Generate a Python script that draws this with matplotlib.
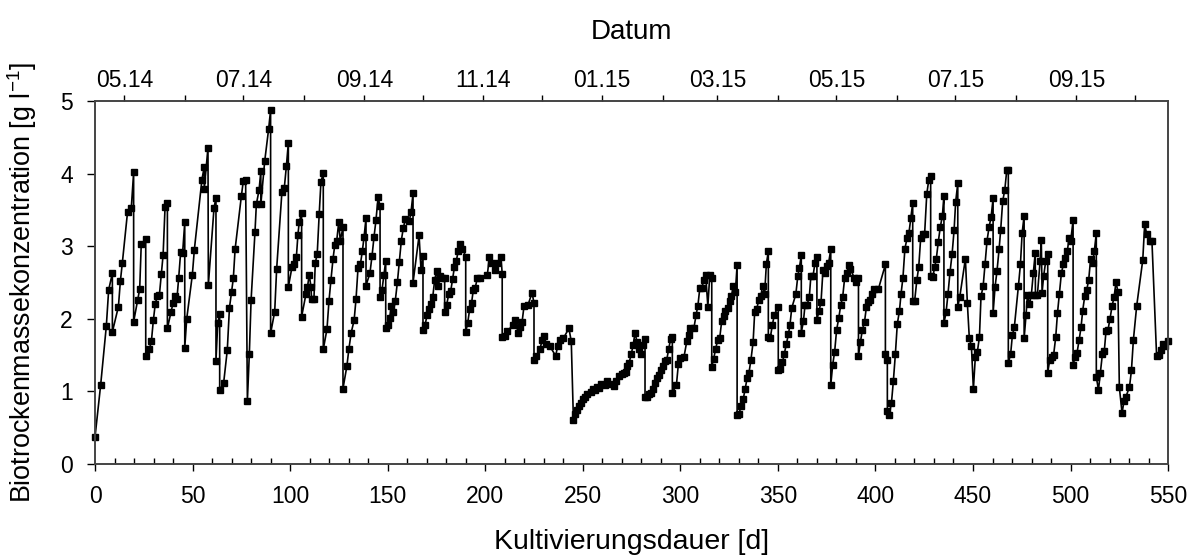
import pandas as pd
import matplotlib.pyplot as plt
from matplotlib.ticker import MultipleLocator, FixedLocator

plt.rcParams['font.family'] = ['Liberation Sans', 'DejaVu Sans']
plt.rcParams['mathtext.default'] = 'regular'

# cultivation start, day 0
start = pd.Timestamp("2014-04-16")

days = [
    0, 2.9, 5.8, 7.0, 8.9, 8.9, 12.0, 13.0, 14.0, 16.7, 18.6, 19.8, 19.8, 21.9, 22.9, 23.7,
    26.0, 26.0, 27.8, 28.9, 29.9, 30.9, 31.9, 33.0, 34.0, 34.9, 35.9, 37.1, 37.1, 39.0, 40.0,
    41.0, 42.0, 42.9, 43.9, 44.9, 46.0, 46.0, 47.0, 49.9, 50.9, 54.8, 56.0, 56.0, 57.9, 58.1,
    61.0, 62.0, 62.0, 62.9, 63.9, 63.9, 65.9, 67.8, 68.9, 70.0, 70.9, 71.8, 75.0, 76.0, 77.2,
    78.1, 79.1, 80.0, 82.0, 82.7, 84.1, 85.0, 85.0, 87.0, 89.0, 90.0, 90.0, 92.1, 93.1, 95.8,
    97.0, 98.1, 99.1, 99.1, 101.0, 102.0, 103.2, 104.0, 104.7, 105.9, 105.9, 108.1, 108.9,
    109.8, 110.7, 111.0, 112.2, 112.9, 113.9, 114.9, 115.8, 117.0, 117.0, 118.9, 119.9, 120.9,
    122.0, 122.9, 123.9, 124.9, 125.7, 127.1, 127.1, 129.1, 130.1, 131.3, 132.8, 133.8, 134.8,
    136.0, 137.0, 137.9, 138.9, 138.9, 140.9, 142.0, 143.0, 144.0, 145.1, 146.1, 146.1, 147.1,
    148.1, 149.0, 149.0, 150.0, 151.0, 151.9, 152.9, 153.9, 155.0, 156.0, 157.0, 158.0, 159.1,
    161.1, 162.0, 163.0, 163.0, 166.1, 167.1, 168.1, 168.1, 169.1, 170.2, 171.2, 172.0, 173.1,
    174.1, 175.1, 176.0, 176.8, 177.9, 179.2, 179.2, 180.2, 181.3, 182.3, 183.3, 184.2, 185.2,
    186.1, 187.1, 188.3, 190.0, 190.0, 191.0, 192.0, 193.0, 193.9, 194.9, 195.9, 197.4, 201.1,
    202.1, 203.1, 205.2, 206.2, 208.1, 208.7, 208.7, 210.0, 211.3, 214.4, 215.4, 217.0, 217.8,
    218.9, 219.9, 221.9, 224.0, 225.0, 225.0, 226.0, 228.1, 229.1, 230.1, 231.1, 233.2, 236.1,
    237.1, 238.3, 240.0, 242.9, 244.1, 245.2, 246.2, 247.2, 248.2, 249.3, 250.3, 251.3, 252.3,
    254.2, 255.4, 256.2, 257.3, 258.3, 259.3, 261.4, 262.4, 264.3, 266.2, 267.2, 268.4, 270.3,
    271.3, 272.3, 272.8, 273.7, 274.9, 275.8, 276.8, 277.8, 278.8, 279.9, 280.9, 281.9, 281.9,
    282.9, 284.0, 285.0, 286.0, 287.0, 288.1, 288.9, 289.9, 290.9, 292.0, 293.0, 294.0, 295.0,
    295.9, 295.9, 298.0, 299.0, 300.0, 301.9, 303.3, 304.3, 305.0, 307.0, 308.1, 309.0, 310.0,
    311.0, 312.0, 313.0, 314.1, 315.1, 316.1, 316.1, 317.1, 318.1, 319.2, 320.2, 321.2, 322.3,
    323.1, 324.2, 325.2, 326.2, 327.2, 328.2, 329.1, 329.1, 330.1, 331.1, 332.2, 333.2, 334.2,
    335.2, 336.2, 337.3, 338.1, 339.1, 340.2, 341.2, 342.2, 343.2, 344.1, 345.1, 345.1, 346.1,
    347.2, 348.2, 350.2, 350.2, 351.3, 352.3, 353.3, 354.4, 355.4, 356.2, 357.1, 359.2, 360.2,
    361.0, 362.0, 362.0, 363.1, 363.9, 364.9, 366.1, 366.9, 368.0, 369.0, 370.0, 370.0, 371.1,
    372.1, 373.1, 374.2, 375.0, 376.0, 377.1, 377.1, 378.1, 379.1, 380.1, 381.2, 382.2, 383.2,
    384.2, 385.3, 386.3, 387.2, 389.2, 390.2, 391.3, 391.3, 392.3, 393.3, 394.4, 395.4, 396.4,
    397.4, 398.4, 399.5, 401.5, 405.1, 405.1, 406.1, 406.1, 407.1, 408.2, 409.2, 410.2, 411.2,
    412.3, 413.1, 414.1, 415.1, 416.2, 417.2, 418.1, 419.1, 419.1, 420.1, 421.2, 422.2, 423.2,
    424.2, 425.2, 426.3, 427.3, 428.3, 428.3, 429.4, 430.4, 431.2, 432.2, 433.2, 434.3, 435.1,
    435.1, 436.2, 437.2, 438.2, 439.3, 440.3, 441.1, 442.2, 442.2, 443.2, 446.1, 447.1, 448.1,
    449.2, 450.2, 451.2, 452.2, 453.3, 454.1, 455.2, 456.2, 457.2, 458.2, 459.3, 460.3, 460.3,
    461.3, 462.3, 463.4, 464.2, 465.2, 466.3, 467.3, 468.1, 468.1, 469.3, 470.2, 471.2, 473.3,
    474.3, 475.2, 476.2, 476.2, 477.2, 477.9, 478.9, 479.9, 480.9, 481.9, 482.0, 483.0, 484.4,
    485.0, 485.4, 486.2, 487.3, 488.3, 488.3, 489.3, 490.3, 491.3, 492.4, 493.3, 494.3, 495.3,
    496.3, 497.4, 498.4, 499.2, 500.1, 501.3, 501.3, 502.3, 503.3, 504.4, 505.4, 506.2, 507.3,
    508.3, 509.3, 510.3, 511.4, 512.2, 513.2, 513.2, 514.3, 515.3, 516.3, 517.3, 518.2, 519.2,
    520.2, 521.3, 522.3, 523.3, 524.3, 525.0, 526.4, 527.4, 528.4, 530.2, 531.2, 532.2, 533.9,
    537.0, 538.0, 539.0, 540.7, 541.7, 544.1, 545.2, 546.2, 547.2, 548.2, 549.8,
]

btm = [
    0.37, 1.09, 1.90, 2.40, 2.63, 1.82, 2.17, 2.52, 2.77, 3.48, 3.53, 4.02, 1.96, 2.26, 2.41, 3.03,
    3.10, 1.49, 1.58, 1.69, 1.98, 2.21, 2.31, 2.33, 2.62, 2.88, 3.54, 3.60, 1.87, 2.10, 2.22,
    2.32, 2.28, 2.57, 2.92, 2.91, 3.33, 1.60, 2.00, 2.61, 2.95, 3.92, 4.10, 3.79, 4.36, 2.47,
    3.53, 3.67, 1.42, 1.94, 2.07, 1.02, 1.11, 1.57, 2.15, 2.37, 2.56, 2.96, 3.69, 3.90, 3.91,
    0.87, 1.52, 2.26, 3.20, 3.58, 3.78, 4.04, 3.58, 4.18, 4.62, 4.88, 1.80, 2.10, 2.69, 3.75,
    3.80, 4.11, 4.43, 2.44, 2.72, 2.76, 2.85, 3.16, 3.34, 3.46, 2.03, 2.34, 2.44,
    2.61, 2.44, 2.27, 2.27, 2.77, 2.90, 3.44, 3.89, 4.01, 1.58, 1.86, 2.24, 2.53,
    2.83, 3.02, 3.08, 3.33, 3.08, 3.26, 1.04, 1.35, 1.58, 1.81, 1.98, 2.28, 2.70,
    2.75, 2.93, 3.13, 3.39, 2.46, 2.63, 2.87, 3.13, 3.36, 3.68, 3.55, 2.30, 2.40,
    2.61, 2.80, 1.87, 1.92, 2.01, 2.18, 2.10, 2.25, 2.51, 2.79, 3.08, 3.25, 3.38,
    3.35, 3.48, 3.73, 2.50, 3.15, 2.67, 2.87, 1.85, 1.91, 2.05, 2.14, 2.21, 2.30,
    2.54, 2.66, 2.45, 2.59, 2.56, 2.57, 2.10, 2.19, 2.34, 2.38, 2.55, 2.71, 2.80,
    2.93, 3.03, 2.97, 2.86, 1.82, 1.94, 2.13, 2.22, 2.40, 2.43, 2.56, 2.57, 2.61,
    2.85, 2.77, 2.68, 2.77, 2.85, 2.62, 1.75, 1.76, 1.83, 1.92, 1.98, 1.80, 1.89,
    1.96, 2.18, 2.19, 2.36, 2.22, 1.43, 1.49, 1.58, 1.71, 1.77, 1.66, 1.62, 1.49,
    1.62, 1.71, 1.73, 1.87, 1.69, 0.61, 0.69, 0.75, 0.80, 0.84, 0.89, 0.92, 0.96,
    0.99, 1.03, 1.02, 1.06, 1.05, 1.10, 1.09, 1.14, 1.10, 1.07, 1.15, 1.21, 1.24,
    1.25, 1.27, 1.35, 1.39, 1.52, 1.64, 1.81, 1.68, 1.59, 1.51, 1.64, 1.72, 0.92,
    0.93, 0.96, 0.98, 1.04, 1.12, 1.19, 1.23, 1.29, 1.35, 1.42, 1.43, 1.58, 1.72,
    1.75, 0.98, 1.09, 1.38, 1.46, 1.48, 1.69, 1.78, 1.88, 1.88, 2.06, 2.18, 2.43,
    2.43, 2.53, 2.61, 2.17, 2.61, 2.56, 1.34, 1.45, 1.59, 1.71, 1.74, 1.97, 2.04,
    2.11, 2.15, 2.25, 2.31, 2.46, 2.37, 2.74, 0.68, 0.69, 0.80, 0.89, 1.03, 1.18,
    1.26, 1.44, 1.68, 2.09, 2.13, 2.26, 2.31, 2.46, 2.34, 2.76, 2.93, 1.75, 1.74,
    1.92, 2.06, 2.17, 1.29, 1.31, 1.40, 1.52, 1.66, 1.79, 1.92, 2.15, 2.34, 2.59,
    2.70, 2.88, 1.81, 1.97, 2.19, 2.19, 2.30, 2.59, 2.59, 2.77, 2.86, 1.99, 2.11,
    2.23, 2.67, 2.63, 2.73, 2.77, 2.96, 1.09, 1.37, 1.55, 1.85, 2.01, 2.19, 2.30,
    2.56, 2.63, 2.74, 2.69, 2.56, 2.51, 2.56, 1.49, 1.68, 1.85, 1.96, 2.17, 2.23,
    2.26, 2.35, 2.41, 2.41, 2.75, 1.51, 1.44, 0.73, 0.68, 0.84, 1.15, 1.51, 1.93,
    2.11, 2.34, 2.57, 2.97, 3.11, 3.19, 3.39, 3.60, 2.24, 2.25, 2.53, 2.72, 3.12,
    3.17, 3.17, 3.72, 3.91, 3.97, 2.59, 2.58, 2.72, 2.83, 3.06, 3.26, 3.42, 3.70,
    1.94, 2.09, 2.35, 2.64, 2.90, 3.22, 3.61, 3.87, 2.17, 2.30, 2.83, 2.22, 1.74,
    1.62, 1.03, 1.48, 1.54, 1.75, 2.31, 2.45, 2.76, 3.08, 3.26, 3.41, 3.66, 2.08,
    2.44, 2.66, 2.97, 3.23, 3.62, 3.78, 4.05, 4.05, 1.39, 1.52, 1.78, 1.89, 2.46,
    2.75, 3.19, 3.42, 1.73, 2.06, 2.33, 2.20, 2.33, 2.63, 2.91, 2.33, 2.33, 2.80,
    3.09, 2.36, 2.59, 2.80, 2.90, 1.26, 1.43, 1.48, 1.50, 1.75, 2.08, 2.35, 2.63,
    2.75, 2.84, 2.94, 3.12, 3.08, 3.36, 1.36, 1.48, 1.53, 1.71, 1.89, 2.11, 2.32,
    2.40, 2.54, 2.83, 2.77, 2.94, 3.18, 1.20, 1.02, 1.26, 1.51, 1.56, 1.84, 1.85,
    2.00, 2.18, 2.30, 2.51, 2.37, 1.06, 0.70, 0.87, 0.93, 1.06, 1.29, 1.71, 2.18,
    2.81, 3.31, 3.17, 3.08, 3.08, 1.49, 1.50, 1.57, 1.65, 1.62, 1.70,
]

fig = plt.figure(figsize=(11.95, 5.58), dpi=100)
ax = fig.add_axes([0.0795, 0.1685, 0.898, 0.650])

ax.plot(days, btm, color='black', lw=1.2, marker='s', markersize=3.7, clip_on=False)

ax.set_xlim(0, 550)
ax.set_ylim(0, 5)
ax.xaxis.set_major_locator(MultipleLocator(50))
ax.xaxis.set_minor_locator(MultipleLocator(10))
ax.yaxis.set_major_locator(MultipleLocator(1))
ax.tick_params(axis='x', which='major', direction='out', length=5, width=1, pad=10, labelsize=16.5)
ax.tick_params(axis='x', which='minor', direction='in', length=4, width=1)
ax.tick_params(axis='y', which='major', direction='out', length=6, width=1, pad=10, labelsize=16.5)
ax.set_xlabel('Kultivierungsdauer [d]', fontsize=20.5, labelpad=15)
ax.set_ylabel('Biotrockenmassekonzentration [g l$^{-1}$]', fontsize=19.4, labelpad=15)

# date axis on top: ticks at every month start, labels every 2 months
months = pd.date_range("2014-05-01", "2015-10-01", freq="MS")
month_days = [(m - start).days for m in months]
labeled = [d for m, d in zip(months, month_days) if m.month % 2 == 1]
labels = [m.strftime('%m.%y') for m in months if m.month % 2 == 1]
other = [d for m, d in zip(months, month_days) if m.month % 2 == 0]

top = ax.twiny()
top.set_xlim(ax.get_xlim())
top.xaxis.set_major_locator(FixedLocator(labeled))
top.xaxis.set_minor_locator(FixedLocator(other))
top.set_xticklabels(labels)
top.tick_params(axis='x', which='both', direction='out', length=4, width=1, pad=3, labelsize=16.5)
top.set_xlabel('Datum', fontsize=20, labelpad=21)

for a in (ax, top):
    for s in a.spines.values():
        s.set_color('#444444')
        s.set_linewidth(1.2)

fig.savefig('out.png', dpi=100)
